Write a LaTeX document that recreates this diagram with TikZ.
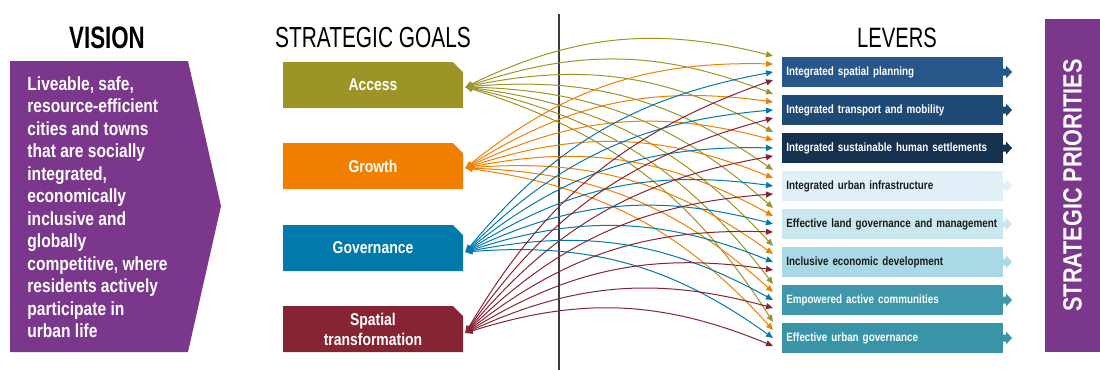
\documentclass[tikz,border=0pt]{standalone}
\usepackage{fontspec}
\setmainfont{Liberation Sans}[FakeStretch=0.82]
\newfontfamily\titlefont{Liberation Sans}[FakeStretch=0.72]
\usepackage{tikz}
\usetikzlibrary{arrows.meta, shapes.misc}

\definecolor{visionpurple}{HTML}{7A378B}
\definecolor{goalolive}{HTML}{9C9427}
\definecolor{goalorange}{HTML}{F07F00}
\definecolor{goalblue}{HTML}{0079AD}
\definecolor{goalred}{HTML}{872434}
\definecolor{levA}{HTML}{27578A}
\definecolor{levB}{HTML}{204A76}
\definecolor{levC}{HTML}{16304F}
\definecolor{levD}{HTML}{E0F0F6}
\definecolor{levE}{HTML}{C9E7EF}
\definecolor{levF}{HTML}{A9D9E6}
\definecolor{levG}{HTML}{3E97AB}
\definecolor{levH}{HTML}{3A94A8}
\definecolor{levtext}{HTML}{1A1A1A}
\definecolor{divgray}{HTML}{3C3C3C}

\tikzset{
  heading/.style={font=\titlefont\fontsize{14.5}{14.5}\selectfont},
  goalbox/.style={chamfered rectangle, chamfered rectangle corners=north east,
    chamfered rectangle xsep=2.5pt, chamfered rectangle ysep=2.5pt,
    minimum width=90pt, minimum height=23pt, inner sep=0pt, text=white, align=center,
    font=\bfseries\fontsize{8.5}{10}\selectfont},
  lever/.style={rectangle, anchor=west, minimum height=15pt, text width=106.5pt,
    inner xsep=2pt, inner ysep=0pt, align=left, font=\bfseries\fontsize{6}{7}\selectfont},
  link/.style={line width=0.5pt, bend left=20,
    {Triangle[length=3.5pt,width=3pt]}-{Triangle[length=3.5pt,width=3pt]}},
  olv/.style={link, goalolive},
  org/.style={link, goalorange},
  blu/.style={link, goalblue},
  rd/.style={link, goalred}
}

\newcommand{\levtip}[1]{\fill[#1] (1003,-3.5) -- ++(3,0) -- ++(0,-3) -- ++(6,6.5) -- ++(-6,6.5) -- ++(0,-3) -- ++(-3,0) -- cycle;}

\begin{document}
\begin{tikzpicture}[x=0.5pt, y=-0.5pt]
\useasboundingbox (0,0) rectangle (1100,370);

% vision
\node[font=\bfseries\titlefont\fontsize{15.5}{15.5}\selectfont] (vtitle) at (107,38) {VISION};
\fill[visionpurple] (10,61) -- (188,61) -- (221,206) -- (188,352) -- (10,352) -- cycle;
\node[anchor=north west, inner sep=0pt, align=left, text=white,
  font=\bfseries\fontsize{9.5}{11.25}\selectfont] (vtext) at (27,76)
  {Liveable, safe,\\resource-efficient\\cities and towns\\that are socially\\integrated,\\economically\\inclusive and\\globally\\competitive, where\\residents actively\\participate in\\urban life};

% strategic goals
\node[heading] (gtitle) at (373,38) {STRATEGIC GOALS};
\node[goalbox, fill=goalolive] (access) at (373,85) {Access};
\node[goalbox, fill=goalorange] (growth) at (373,166) {Growth};
\node[goalbox, fill=goalblue] (gov) at (373,248) {Governance};
\node[goalbox, fill=goalred] (spatial) at (373,329) {Spatial\\transformation};

\draw[divgray, line width=0.7pt] (559,14) -- (559,370);

% levers
\node[heading, font=\titlefont\fontsize{14}{14}\selectfont] (ltitle) at (897,38) {LEVERS};
\begin{scope}[shift={(0,72)}]\levtip{levA}\end{scope}
\begin{scope}[shift={(0,110)}]\levtip{levB}\end{scope}
\begin{scope}[shift={(0,148)}]\levtip{levC}\end{scope}
\begin{scope}[shift={(0,186)}]\levtip{levD}\end{scope}
\begin{scope}[shift={(0,224)}]\levtip{levE}\end{scope}
\begin{scope}[shift={(0,262)}]\levtip{levF}\end{scope}
\begin{scope}[shift={(0,300)}]\levtip{levG}\end{scope}
\begin{scope}[shift={(0,338)}]\levtip{levH}\end{scope}
\node[lever, fill=levA, text=white] (lev1) at (782,72) {Integrated spatial planning};
\node[lever, fill=levB, text=white] (lev2) at (782,110) {Integrated transport and mobility};
\node[lever, fill=levC, text=white] (lev3) at (782,148) {Integrated sustainable human settlements};
\node[lever, fill=levD, text=levtext] (lev4) at (782,186) {Integrated urban infrastructure};
\node[lever, fill=levE, text=levtext] (lev5) at (782,224) {Effective land governance and management};
\node[lever, fill=levF, text=levtext] (lev6) at (782,262) {Inclusive economic development};
\node[lever, fill=levG, text=white] (lev7) at (782,300) {Empowered active communities};
\node[lever, fill=levH, text=white] (lev8) at (782,338) {Effective urban governance};

% links access
\draw[olv] ([shift={(1pt,-1pt)}]access.east) to ([shift={(-4.5pt,8pt)}]lev1.west);
\draw[olv] ([shift={(1pt,-1pt)}]access.east) to ([shift={(-4.5pt,8pt)}]lev2.west);
\draw[olv] ([shift={(1pt,-1pt)}]access.east) to ([shift={(-4.5pt,8pt)}]lev3.west);
\draw[olv] ([shift={(1pt,-1pt)}]access.east) to ([shift={(-4.5pt,8pt)}]lev4.west);
\draw[olv] ([shift={(1pt,-1pt)}]access.east) to ([shift={(-4.5pt,8pt)}]lev5.west);
\draw[olv] ([shift={(1pt,-1pt)}]access.east) to ([shift={(-4.5pt,8pt)}]lev6.west);
\draw[olv] ([shift={(1pt,-1pt)}]access.east) to ([shift={(-4.5pt,8pt)}]lev7.west);
\draw[olv] ([shift={(1pt,-1pt)}]access.east) to ([shift={(-4.5pt,8pt)}]lev8.west);
% links growth
\draw[org] ([shift={(1pt,-1pt)}]growth.east) to ([shift={(-4.5pt,4pt)}]lev1.west);
\draw[org] ([shift={(1pt,-1pt)}]growth.east) to ([shift={(-4.5pt,4pt)}]lev2.west);
\draw[org] ([shift={(1pt,-1pt)}]growth.east) to ([shift={(-4.5pt,4pt)}]lev3.west);
\draw[org] ([shift={(1pt,-1pt)}]growth.east) to ([shift={(-4.5pt,4pt)}]lev4.west);
\draw[org] ([shift={(1pt,-1pt)}]growth.east) to ([shift={(-4.5pt,4pt)}]lev5.west);
\draw[org] ([shift={(1pt,-1pt)}]growth.east) to ([shift={(-4.5pt,4pt)}]lev6.west);
\draw[org] ([shift={(1pt,-1pt)}]growth.east) to ([shift={(-4.5pt,4pt)}]lev7.west);
\draw[org] ([shift={(1pt,-1pt)}]growth.east) to ([shift={(-4.5pt,4pt)}]lev8.west);
% links governance
\draw[blu] ([shift={(1pt,-2pt)}]gov.east) to ([shift={(-4.5pt,0pt)}]lev1.west);
\draw[blu] ([shift={(1pt,-2pt)}]gov.east) to ([shift={(-4.5pt,0pt)}]lev2.west);
\draw[blu] ([shift={(1pt,-2pt)}]gov.east) to ([shift={(-4.5pt,0pt)}]lev3.west);
\draw[blu] ([shift={(1pt,-2pt)}]gov.east) to ([shift={(-4.5pt,0pt)}]lev4.west);
\draw[blu] ([shift={(1pt,-2pt)}]gov.east) to ([shift={(-4.5pt,0pt)}]lev5.west);
\draw[blu] ([shift={(1pt,-2pt)}]gov.east) to ([shift={(-4.5pt,0pt)}]lev6.west);
\draw[blu] ([shift={(1pt,-2pt)}]gov.east) to ([shift={(-4.5pt,0pt)}]lev7.west);
\draw[blu] ([shift={(1pt,-2pt)}]gov.east) to ([shift={(-4.5pt,0pt)}]lev8.west);
% links spatial transformation
\draw[rd] ([shift={(1pt,-2pt)}]spatial.east) to ([shift={(-4.5pt,-4pt)}]lev1.west);
\draw[rd] ([shift={(1pt,-2pt)}]spatial.east) to ([shift={(-4.5pt,-4pt)}]lev2.west);
\draw[rd] ([shift={(1pt,-2pt)}]spatial.east) to ([shift={(-4.5pt,-4pt)}]lev3.west);
\draw[rd] ([shift={(1pt,-2pt)}]spatial.east) to ([shift={(-4.5pt,-4pt)}]lev4.west);
\draw[rd] ([shift={(1pt,-2pt)}]spatial.east) to ([shift={(-4.5pt,-4pt)}]lev5.west);
\draw[rd] ([shift={(1pt,-2pt)}]spatial.east) to ([shift={(-4.5pt,-4pt)}]lev6.west);
\draw[rd] ([shift={(1pt,-2pt)}]spatial.east) to ([shift={(-4.5pt,-4pt)}]lev7.west);
\draw[rd] ([shift={(1pt,-2pt)}]spatial.east) to ([shift={(-4.5pt,-4pt)}]lev8.west);

% strategic priorities
\node[rectangle, fill=visionpurple, rotate=90, minimum width=166.5pt, minimum height=27.5pt,
  text=white, font=\bfseries\fontsize{13.2}{13.2}\selectfont] (prio) at (1072.5,185.5) {STRATEGIC PRIORITIES};
\end{tikzpicture}
\end{document}
